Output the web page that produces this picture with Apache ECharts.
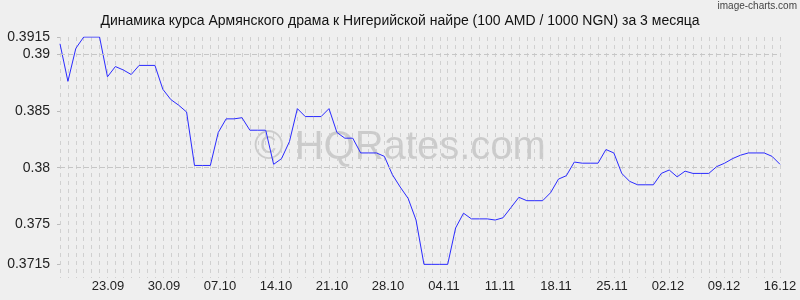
<!DOCTYPE html>
<html>
<head>
<meta charset="utf-8">
<script src="https://cdn.jsdelivr.net/npm/echarts@6/dist/echarts.min.js"></script>
<style>html,body{margin:0;padding:0;background:#efefef;}#c{width:800px;height:300px;}</style>
</head>
<body>
<div id="c"></div>
<script>
// Title
const titleText = 'Динамика курса Армянского драма к Нигерийской найре (100 AMD / 1000 NGN) за 3 месяца';
// Daily rates, 92 points
const rates = [
  0.3909, 0.3876, 0.3905, 0.3915, 0.3915, 0.3915, 0.3880, 0.3889, 0.3886, 0.3882,
  0.3890, 0.3890, 0.3890, 0.3869, 0.3860, 0.3855, 0.3849, 0.3802, 0.3802, 0.3802,
  0.3831, 0.3843, 0.3843, 0.3844, 0.3833, 0.3833, 0.3833, 0.3803, 0.3808, 0.3823,
  0.3852, 0.3845, 0.3845, 0.3845, 0.3852, 0.3831, 0.3826, 0.3826, 0.3813, 0.3813,
  0.3813, 0.3810, 0.3794, 0.3783, 0.3773, 0.3754, 0.3715, 0.3715, 0.3715, 0.3715,
  0.3747, 0.3760, 0.3755, 0.3755, 0.3755, 0.3754, 0.3756, 0.3765, 0.3774, 0.3771,
  0.3771, 0.3771, 0.3778, 0.3790, 0.3793, 0.3805, 0.3804, 0.3804, 0.3804, 0.3816,
  0.3813, 0.3795, 0.3788, 0.3785, 0.3785, 0.3785, 0.3795, 0.3798, 0.3792, 0.3797,
  0.3795, 0.3795, 0.3795, 0.3801, 0.3804, 0.3808, 0.3811, 0.3813, 0.3813, 0.3813,
  0.3810, 0.3803
];
// Categories: one per data point (daily)
const categories = [];
(function(){
  const d = new Date(2023, 8, 16);
  for (let i = 0; i < rates.length; i++) {
    const dd = String(d.getDate()).padStart(2,'0');
    const mm = String(d.getMonth()+1).padStart(2,'0');
    categories.push(dd + '.' + mm);
    d.setDate(d.getDate()+1);
  }
})();
// X tick labels and their day offsets from 17.09 (axis spans 17.09 .. 16.12)
const xTickLabels = ['23.09','30.09','07.10','14.10','21.10','28.10','04.11','11.11','18.11','25.11','02.12','09.12','16.12'];
const xTickDays = [6,13,20,27,34,41,48,55,62,69,76,83,90];
const xDaySpan = [0, 90];
// Y ticks
const yTicks = [0.3715, 0.375, 0.38, 0.385, 0.39, 0.3915];
const yTickLabels = ['0.3715','0.375','0.38','0.385','0.39','0.3915'];
const yRange = [0.3703, 0.3915];

const chart = echarts.init(document.getElementById('c'), null, {renderer:'canvas'});
const FONT = 'Liberation Sans, Arial, sans-serif';
chart.setOption({
  backgroundColor: '#efefef',
  animation: false,
  title: {
    text: titleText,
    left: 'center',
    top: 9,
    textStyle: {fontFamily: FONT, fontSize: 14, fontWeight: 'normal', color: '#111'}
  },
  grid: {left: 60, right: 20, top: 37, bottom: 22, containLabel: false},
  graphic: [
    {type:'text', right: 3, top: 1, style:{text:'image-charts.com', font:'10px ' + FONT, fill:'#444'}},
    {type:'text', x: 400, y: 148, silent: true, z: 0,
     style:{text:'© HQRates.com', font:'40px ' + FONT, fill:'rgba(0,0,0,0.15)', align:'center', verticalAlign:'middle'}}
  ],
  xAxis: [
    {
      type: 'category', data: categories, boundaryGap: false,
      axisLine: {show:false}, axisTick: {show:false}, axisLabel: {show:false},
      splitLine: {show:true, interval: 0, lineStyle:{type:[4,4], color:'#d0d0d0', width:1}}
    },
    {
      type: 'value', position: 'bottom', min: xDaySpan[0], max: xDaySpan[1],
      axisLine: {show:false}, axisTick: {show:false}, splitLine: {show:false},
      axisLabel: {
        customValues: xTickDays,
        formatter: function(v){ const i = xTickDays.indexOf(v); return i >= 0 ? xTickLabels[i] : ''; },
        fontFamily: FONT, fontSize: 13, color: '#222', margin: 2
      }
    }
  ],
  yAxis: {
    type: 'value', min: yRange[0], max: yRange[1],
    axisLine: {show:false},
    splitLine: {show:false},
    axisTick: {show:true, customValues: yTicks, length: 3, lineStyle:{color:'#bbb'}},
    axisLabel: {
      customValues: yTicks,
      formatter: function(v){ let best=0; for(let i=0;i<yTicks.length;i++){ if(Math.abs(yTicks[i]-v)<Math.abs(yTicks[best]-v)) best=i; } return yTickLabels[best]; },
      fontFamily: FONT, fontSize: 14, color: '#222', margin: 10
    }
  },
  series: [{
    type: 'line', data: rates, xAxisIndex: 0, yAxisIndex: 0,
    showSymbol: false, symbol: 'none',
    lineStyle: {color:'#2a2aff', width: 1},
    markLine: {
      silent: true, symbol: ['none','none'], label: {show:false},
      lineStyle: {type:[5,3], color:'#c6c6c6', width:1},
      data: yTicks.map(v => ({yAxis: v}))
    },
    z: 3
  }]
});
</script>
</body>
</html>
